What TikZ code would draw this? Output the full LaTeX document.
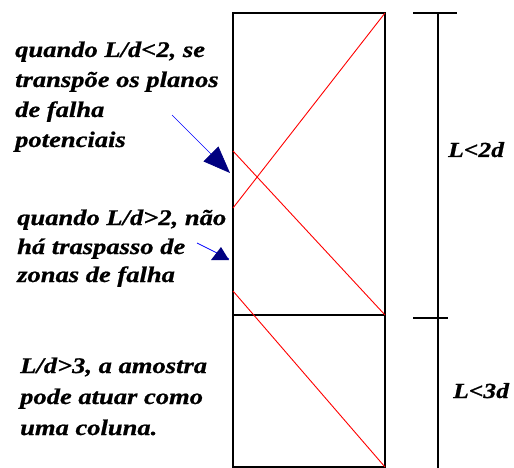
\documentclass[tikz,border=0pt]{standalone}
\usepackage{fontspec}
\setmainfont{Liberation Serif}
\newfontfamily\labfont[FakeStretch=1.19,FakeBold=0.8]{Liberation Serif}
\usetikzlibrary{arrows.meta}
\definecolor{navyhead}{HTML}{000080}
\tikzset{
  note/.style={anchor=base west, inner sep=0pt, font=\labfont\bfseries\itshape\fontsize{22.3}{26}\selectfont},
  dimlab/.style={anchor=base west, inner sep=0pt, font=\labfont\bfseries\itshape\fontsize{21.5}{26}\selectfont},
  frame/.style={draw=black, line width=1.1pt},
  fault/.style={draw=red, line width=0.9pt},
  dimline/.style={draw=black, line width=1.1pt},
  pointer/.style={draw=blue, line width=0.7pt},
}
\begin{document}
\begin{tikzpicture}[x=1pt, y=-1pt]
\useasboundingbox (0,0) rectangle (514,468);
% specimen
\draw[frame] (233,13) rectangle (385,467);
\draw[frame] (233,315) -- (385,315);
% fault planes
\coordinate (f1a) at (385,13);  \coordinate (f1b) at (233,208);
\coordinate (f2a) at (233,151); \coordinate (f2b) at (385,315);
\coordinate (f3a) at (233,291); \coordinate (f3b) at (385,467);
\draw[fault] (f1a) -- (f1b);
\draw[fault] (f2a) -- (f2b);
\draw[fault] (f3a) -- (f3b);
% dimension line
\coordinate (dtop) at (438,13); \coordinate (dbot) at (438,468);
\draw[dimline] (dtop) -- (dbot);
\draw[dimline] (413,13) -- (457,13);
\draw[dimline] (413,318) -- (448,318);
\node[dimlab] (l2d) at (448,157) {L<2d};
\node[dimlab] (l3d) at (453,398) {L<3d};
% notes
\node[note] (n1a) at (15,57)  {quando L/d<2, se};
\node[note] (n1b) at (15,87)  {transpõe os planos};
\node[note] (n1c) at (15,117) {de falha};
\node[note] (n1d) at (15,147) {potenciais};
\node[note] (n2a) at (17,225) {quando L/d>2, não};
\node[note] (n2b) at (17,254) {há traspasso de};
\node[note] (n2c) at (17,282) {zonas de falha};
\node[note] (n3a) at (20,373) {L/d>3, a amostra};
\node[note] (n3b) at (20,404) {pode atuar como};
\node[note] (n3c) at (20,435) {uma coluna.};
% pointers
\coordinate (p1s) at (172,115); \coordinate (p1e) at (230,173);
\coordinate (p2s) at (197,243); \coordinate (p2e) at (229,259);
\draw[pointer, -{Triangle[length=27pt,width=21pt,fill=navyhead,color=navyhead]}] (p1s) -- (p1e);
\draw[pointer] (p2s) -- (p2e);
\fill[navyhead] (221,247) -- (229,260) -- (211,260) -- cycle;
\end{tikzpicture}
\end{document}
